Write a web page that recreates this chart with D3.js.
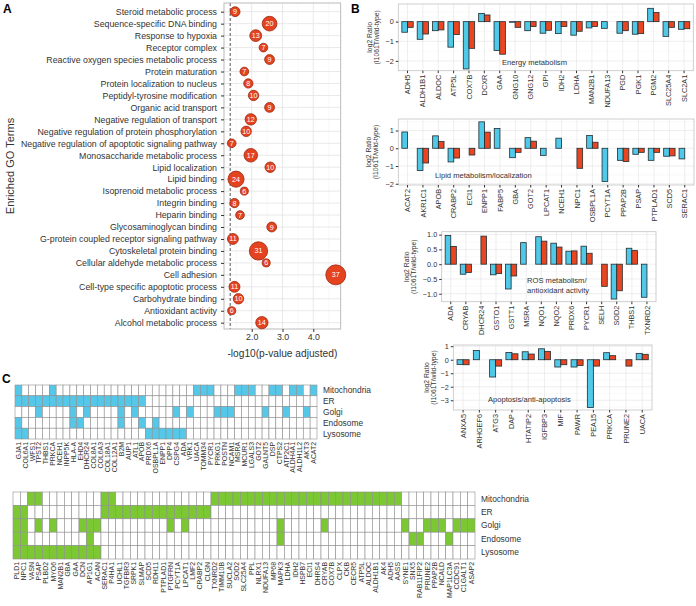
<!DOCTYPE html>
<html>
<head>
<meta charset="utf-8">
<script src="https://cdn.jsdelivr.net/npm/d3@7"></script>
<style>
body { margin: 0; background: #fff; }
svg { font-family: "Liberation Sans", Arial, sans-serif; }
</style>
</head>
<body>
<svg id="fig" width="696" height="606"></svg>
<script>
// ---- Panel A: enriched GO terms ----
const goTerms = ["Steroid metabolic process", "Sequence-specific DNA binding", "Response to hypoxia",
  "Receptor complex", "Reactive oxygen species metabolic process", "Protein maturation",
  "Protein localization to nucleus", "Peptidyl-tyrosine modification", "Organic acid transport",
  "Negative regulation of transport", "Negative regulation of protein phosphorylation",
  "Negative regulation of apoptotic signaling pathway", "Monosaccharide metabolic process",
  "Lipid localization", "Lipid binding", "Isoprenoid metabolic process", "Integrin binding",
  "Heparin binding", "Glycosaminoglycan binding", "G-protein coupled receptor signaling pathway",
  "Cytoskeletal protein binding", "Cellular aldehyde metabolic process", "Cell adhesion",
  "Cell-type specific apoptotic process", "Carbohydrate binding", "Antioxidant activity",
  "Alcohol metabolic process"];
const goScore = [1.46, 2.58, 2.13, 2.38, 2.58, 1.76, 1.89, 2.06, 2.58, 1.97, 1.82, 1.35, 1.97,
  2.6, 1.49, 1.76, 1.44, 1.62, 2.65, 1.39, 2.22, 2.47, 4.73, 1.44, 1.57, 1.35, 2.33];
const goCount = [9, 20, 13, 7, 9, 7, 8, 10, 9, 12, 10, 7, 17, 10, 24, 6, 8, 7, 9, 11, 31, 6, 37, 11, 10, 6, 14];
const goTicks = [2, 3, 4];

// ---- Panel B: log2 ratios (blue / red series) ----
const energyGenes = ["ADH5", "ALDH1B1", "ALDOC", "ATP5L", "COX7B", "DCXR", "GAA", "GNG10", "GNG12", "GPI",
  "IDH2", "LDHA", "MAN2B1", "NDUFA13", "PGD", "PGK1", "PGM2", "SLC25A4", "SLC2A1"];
const energyBlue = [-0.54, -0.9, -0.46, -1.3, -2.41, 0.42, -1.47, -0.03, -0.46, -0.59, -0.61, -0.69, -0.32, -0.34, -0.59, -0.64, 0.68, -0.75, -0.39];
const energyRed = [-0.29, -0.63, -0.42, -0.66, -1.36, 0.34, -1.66, -0.29, -0.25, -0.44, -0.25, -0.49, -0.25, null, -0.46, -0.61, 0.47, -0.29, -0.36];

const lipidGenes = ["ACAT2", "AKR1C1", "APOB", "CRABP2", "ECI1", "ENPP1", "FABP5", "GBA", "GOT2", "LPCAT1",
  "NCEH1", "NPC1", "OSBPL1A", "PCYT1A", "PPAP2B", "PSAP", "PTPLAD1", "SCD5", "SERAC1"];
const lipidBlue = [0.92, -1.25, 0.7, -0.77, null, 1.49, 1.11, -0.53, 0.6, -0.4, 0.57, null, 0.72, -1.87, -0.68, -0.34, -0.68, -0.45, -0.6];
const lipidRed = [null, -0.83, 0.38, -0.55, -0.38, 0.91, null, -0.23, 0.4, null, null, -1.13, 0.34, null, -0.75, -0.23, -0.23, -0.43, null];

const rosGenes = ["ADA", "CRYAB", "DHCR24", "GSTO1", "GSTT1", "MSRA", "NQO1", "NQO2", "PRDX6", "PYCR1",
  "SELH", "SOD2", "THBS1", "TXNRD2"];
const rosBlue = [0.97, -0.34, null, -0.36, -0.84, 0.73, 0.93, 0.71, 0.44, 0.61, null, -1.18, 0.54, -1.12];
const rosRed = [0.6, -0.28, 0.95, -0.32, -0.4, null, 0.78, 0.58, 0.45, 0.37, -0.75, -0.9, 0.46, null];

const apopGenes = ["ANXA5", "ARHGEF6", "ATG3", "DAP", "HTATIP2", "IGFBP3", "MIF", "PAWR", "PEA15", "PRKCA", "PRUNE2", "UACA"];
const apopBlue = [-0.35, 0.69, -1.28, 0.54, 0.59, 0.81, -0.54, -0.54, -3.53, 0.52, null, 0.47];
const apopRed = [-0.37, null, -0.47, 0.44, 0.42, 0.62, -0.37, -0.42, -0.47, 0.3, -0.47, 0.4];

// ---- Panel C: subcellular localisation ----
const compartments = ["Mitochondria", "ER", "Golgi", "Endosome", "Lysosome"];

const blueGenes = ["GJA1", "COL6A1", "WFS1", "TPST2", "THBS1", "PRKCA", "NCEH1", "INPP5K", "HLA-A", "EHD4",
  "DHCR24", "COL8A1", "COL6A3", "COL18A1", "COL12A1", "B2M", "AUP1", "ATL1", "APOB", "PRDX6", "OSBPL1A",
  "ENPP1", "DPP4", "CSPG4", "ADA", "VRK1", "UACA", "TOMM34", "PYCR1", "PRKG1", "POSTN", "NCAM1", "MSRA",
  "MCUR1", "LGALS3", "GOT2", "GALNT5", "DSP", "CTPS2", "ATP2C1", "ALDH4A1", "ALDH1L2", "AKT3", "ACAT2"];
const blueMito = ["GJA1", "PRKCA", "UACA", "TOMM34", "PYCR1", "MSRA", "MCUR1", "LGALS3", "DSP", "CTPS2", "ALDH4A1", "ALDH1L2", "ACAT2"];
const blueER = ["GJA1", "COL6A1", "WFS1", "TPST2", "THBS1", "PRKCA", "NCEH1", "INPP5K", "HLA-A", "EHD4",
  "DHCR24", "COL8A1", "COL6A3", "COL18A1", "COL12A1", "B2M", "AUP1", "ATL1", "APOB"];
const blueGolgi = ["TPST2", "HLA-A", "DHCR24", "B2M", "ATL1", "CSPG4", "VRK1", "PRKG1", "POSTN", "NCAM1", "GALNT5", "ATP2C1", "AKT3"];
const blueEndo = ["GJA1", "HLA-A", "EHD4", "B2M", "APOB", "OSBPL1A"];
const blueLyso = ["GJA1", "COL6A1", "PRDX6", "OSBPL1A", "ENPP1", "DPP4", "CSPG4", "ADA"];

const greenGenes = ["PLD1", "NPC1", "VASN", "PSAP", "PLBD2", "MYO6", "MAN2B1", "GBA", "GAA", "DCN", "AP1G1",
  "ACAN", "SERAC1", "P4HA1", "UCHL1", "TGFBR3", "SRPK1", "SLMAP", "SCD5", "RDH11", "PTPLAD1", "PTGFRN",
  "PCYT1A", "LPCAT1", "LMF2", "CRABP2", "CLGN", "TXNRD2", "TIMM10B", "SUCLA2", "SOD2", "SLC25A4", "PPL",
  "NLRX1", "NDUFA13", "MP68", "MAPK3", "LDHA", "IDH2", "HSPB7", "ECI1", "DHRS4", "CRYAB", "COX7B", "CLPX",
  "CKB", "CECR5", "ATP5L", "ALDOC", "ALDH1B1", "AK4", "ADH5", "AASS", "SYNE1", "SNX5", "RAB11FIP2",
  "PRUNE2", "PPAP2B", "NCALD", "MAP1LC3A", "CCDC91", "C1GALT1", "ASAP2"];
const greenMito = ["VASN", "PSAP", "SERAC1", "P4HA1", "TXNRD2", "TIMM10B", "SUCLA2", "SOD2", "SLC25A4", "PPL",
  "NLRX1", "NDUFA13", "MP68", "MAPK3", "LDHA", "IDH2", "HSPB7", "ECI1", "DHRS4", "CRYAB", "COX7B", "CLPX",
  "CKB", "CECR5", "ATP5L", "ALDOC", "ALDH1B1", "AK4", "ADH5", "AASS"];
const greenER = ["PLD1", "NPC1", "SERAC1", "P4HA1", "UCHL1", "TGFBR3", "SRPK1", "SLMAP", "SCD5", "RDH11",
  "PTPLAD1", "PTGFRN", "PCYT1A", "LPCAT1", "LMF2", "CRABP2", "CLGN"];
const greenGolgi = ["PLD1", "NPC1", "PSAP", "MYO6", "DCN", "AP1G1", "ACAN", "PTGFRN", "LPCAT1", "MAPK3",
  "CRYAB", "SYNE1", "PRUNE2", "PPAP2B", "NCALD", "CCDC91", "C1GALT1", "ASAP2"];
const greenEndo = ["PLD1", "NPC1", "AP1G1", "MAPK3", "SNX5", "RAB11FIP2", "MAP1LC3A"];
const greenLyso = ["PLD1", "NPC1", "VASN", "PSAP", "PLBD2", "MYO6", "MAN2B1", "GBA", "GAA", "DCN", "AP1G1", "ACAN"];


const svg = d3.select("#fig");
const textCol = "#333",
      gridCol = "#e6e6e6",
      minorCol = "#f3f3f3";

// panel letters
[["A", 3, 13], ["B", 351, 13], ["C", 2, 383]].forEach(l => {
  svg.append("text").attr("x", l[1]).attr("y", l[2])
    .attr("font-size", 12).attr("font-weight", "bold").text(l[0]);
});


// ================= Panel A =================
const aLeft = 224, aRight = 340.7, aTop = 3, aBottom = 329;

let xA = d3.scaleLinear().domain([1.1, 4.89]).range([aLeft, aRight]);
let yA = d3.scalePoint().domain(goTerms).range([11.7, 322.7]);
let rA = d3.scaleSqrt().domain([0, 37]).range([0, 10]);

const gA = svg.append("g");

// grid
gA.selectAll("line.minor").data([1.5, 2.5, 3.5, 4.5]).join("line")
  .attr("x1", d => xA(d)).attr("x2", d => xA(d))
  .attr("y1", aTop).attr("y2", aBottom)
  .attr("stroke", minorCol).attr("stroke-width", 0.6);
gA.selectAll("line.major").data(goTicks).join("line")
  .attr("x1", d => xA(d)).attr("x2", d => xA(d))
  .attr("y1", aTop).attr("y2", aBottom)
  .attr("stroke", gridCol).attr("stroke-width", 0.9);
gA.selectAll("line.hgrid").data(goTerms).join("line")
  .attr("x1", aLeft).attr("x2", aRight)
  .attr("y1", d => yA(d)).attr("y2", d => yA(d))
  .attr("stroke", gridCol).attr("stroke-width", 0.9);

// significance threshold (p = 0.05)
gA.append("line")
  .attr("x1", xA(-Math.log10(0.05))).attr("x2", xA(-Math.log10(0.05)))
  .attr("y1", aTop).attr("y2", aBottom)
  .attr("stroke", "#444").attr("stroke-width", 0.9)
  .attr("stroke-dasharray", "3,2");

gA.append("rect")
  .attr("x", aLeft).attr("y", aTop)
  .attr("width", aRight - aLeft).attr("height", aBottom - aTop)
  .attr("fill", "none").attr("stroke", "#b3b3b3").attr("stroke-width", 0.9);

// axes
let yAxisA = gA.append("g")
  .attr("transform", "translate(" + aLeft + ",0)")
  .call(d3.axisLeft(yA).tickSize(3).tickPadding(4));
let xAxisA = gA.append("g")
  .attr("transform", "translate(0," + aBottom + ")")
  .call(d3.axisBottom(xA).tickValues(goTicks).tickSize(3).tickPadding(2));
[yAxisA, xAxisA].forEach(ax => {
  ax.select(".domain").remove();
  ax.selectAll("line").attr("stroke", textCol);
  ax.selectAll("text").attr("fill", textCol).attr("font-size", 8.8)
    .attr("font-family", "Liberation Sans, Arial, sans-serif");
});

gA.append("text")
  .attr("x", (aLeft + aRight) / 2).attr("y", 357)
  .attr("text-anchor", "middle").attr("font-size", 10.2).attr("fill", textCol)
  .text("-log10(p-value adjusted)");
gA.append("text")
  .attr("transform", "translate(14," + 166 + ") rotate(-90)")
  .attr("text-anchor", "middle").attr("font-size", 11).attr("fill", textCol)
  .text("Enriched GO Terms");

// bubbles
const goNodes = goTerms.map((t, i) => ({ term: t, score: goScore[i], n: goCount[i] }));
gA.selectAll("circle.go").data(goNodes).join("circle")
  .attr("cx", d => xA(d.score)).attr("cy", d => yA(d.term))
  .attr("r", d => rA(d.n))
  .attr("fill", "#e5431f").attr("stroke", "#9c2810").attr("stroke-width", 0.8);
gA.selectAll("text.go").data(goNodes).join("text")
  .attr("x", d => xA(d.score)).attr("y", d => yA(d.term))
  .attr("dy", "0.35em").attr("text-anchor", "middle")
  .attr("font-size", 7.2).attr("fill", "#fff")
  .text(d => d.n);


// ================= Panel B =================
function barChart(o) {
  const g = svg.append("g");
  const x = d3.scaleBand().domain(o.genes).range([o.left, o.right])
    .paddingInner(0).paddingOuter(0.1);
  const y = d3.scaleLinear().domain(o.domain).range([o.bottom, o.top]);
  const step = x.step(), bw = step * 0.37;
  const d = o.ticks[1] - o.ticks[0];
  const minor = [o.ticks[0] - d / 2].concat(o.ticks.map(t => t + d / 2))
    .filter(v => v > o.domain[0] && v < o.domain[1]);

  g.selectAll("line.minor").data(minor).join("line")
    .attr("x1", o.left).attr("x2", o.right)
    .attr("y1", v => y(v)).attr("y2", v => y(v))
    .attr("stroke", minorCol).attr("stroke-width", 0.5);
  g.selectAll("line.major").data(o.ticks).join("line")
    .attr("x1", o.left).attr("x2", o.right)
    .attr("y1", v => y(v)).attr("y2", v => y(v))
    .attr("stroke", gridCol).attr("stroke-width", 0.7);
  g.selectAll("line.vgrid").data(o.genes).join("line")
    .attr("x1", gn => x(gn) + step / 2).attr("x2", gn => x(gn) + step / 2)
    .attr("y1", o.top).attr("y2", o.bottom)
    .attr("stroke", gridCol).attr("stroke-width", 0.7);

  const rows = o.genes.map((gn, i) => ({ gene: gn, blue: o.blue[i], red: o.red[i] }));
  const bar = (sel, key, dx, fill) => sel.selectAll("rect." + key)
    .data(rows.filter(r => r[key] !== null)).join("rect")
    .attr("x", r => x(r.gene) + step / 2 + dx)
    .attr("width", bw)
    .attr("y", r => Math.min(y(r[key]), y(0)))
    .attr("height", r => Math.abs(y(r[key]) - y(0)))
    .attr("fill", fill).attr("stroke", "#1f2d33").attr("stroke-width", 0.8);
  bar(g, "blue", -bw, "#50c8e8");
  bar(g, "red", 0, "#ea4521");

  g.append("rect")
    .attr("x", o.left).attr("y", o.top)
    .attr("width", o.right - o.left).attr("height", o.bottom - o.top)
    .attr("fill", "none").attr("stroke", "#c4c4c4").attr("stroke-width", 0.8);

  const ya = g.append("g").attr("transform", "translate(" + o.left + ",0)")
    .call(d3.axisLeft(y).tickValues(o.ticks).tickFormat(o.fmt).tickSize(2.5).tickPadding(2));
  const xa = g.append("g").attr("transform", "translate(0," + o.bottom + ")")
    .call(d3.axisBottom(x).tickSize(2.5));
  [ya, xa].forEach(ax => {
    ax.select(".domain").remove();
    ax.selectAll("line").attr("stroke", textCol);
    ax.selectAll("text").attr("fill", textCol).attr("font-size", 7.3)
      .attr("font-family", "Liberation Sans, Arial, sans-serif");
  });
  xa.selectAll("text")
    .attr("transform", "rotate(-90)")
    .attr("text-anchor", "end")
    .attr("x", -4).attr("y", 0).attr("dy", "0.35em");

  // axis title
  const cy = (o.top + o.bottom) / 2;
  ["log2 Ratio", "(I1061T/wild-type)"].forEach((t, i) => {
    g.append("text")
      .attr("transform", "translate(" + (o.titleX + i * 7) + "," + cy + ") rotate(-90)")
      .attr("text-anchor", "middle").attr("dy", "0.35em")
      .attr("font-size", 6.8).attr("fill", textCol).text(t);
  });

  // category label inside the panel
  o.label.forEach((t, i) => {
    g.append("text")
      .attr("x", o.labelX).attr("y", o.labelY + i * 10.4)
      .attr("dy", "0.35em").attr("font-size", 7.6).attr("fill", textCol).text(t);
  });
}

barChart({ genes: energyGenes, blue: energyBlue, red: energyRed,
  left: 398.3, right: 693.3, top: 4, bottom: 70.7, domain: [-2.5, 0.9],
  ticks: [-2, -1, 0], fmt: d3.format("d"), titleX: 370,
  label: ["Energy metabolism"], labelX: 502, labelY: 62.7 });

barChart({ genes: lipidGenes, blue: lipidBlue, red: lipidRed,
  left: 398.3, right: 694, top: 119, bottom: 185, domain: [-2.07, 1.65],
  ticks: [-2, -1, 0, 1], fmt: d3.format("d"), titleX: 368.5,
  label: ["Lipid metabolism/localization"], labelX: 435, labelY: 175.3 });

barChart({ genes: rosGenes, blue: rosBlue, red: rosRed,
  left: 441.7, right: 656, top: 231.7, bottom: 301.7, domain: [-1.27, 1.1],
  ticks: [-1, -0.5, 0, 0.5, 1], fmt: d3.format(".1f"), titleX: 407,
  label: ["ROS metabolism/", "antioxidant activity"], labelX: 527, labelY: 280.3 });

barChart({ genes: apopGenes, blue: apopBlue, red: apopRed,
  left: 453.3, right: 652, top: 345, bottom: 410, domain: [-3.72, 1.09],
  ticks: [-3, -2, -1, 0, 1], fmt: d3.format("d"), titleX: 427,
  label: ["Apoptosis/anti-apoptosis"], labelX: 488, labelY: 399.3 });


// ================= Panel C =================
function heatmap(o) {
  const g = svg.append("g");
  const x = d3.scaleBand().domain(o.genes).range([o.left, o.right]);
  const y = d3.scaleBand().domain(compartments).range([o.top, o.bottom]);
  const cells = [];
  compartments.forEach((c, ci) => {
    o.genes.forEach(gn => cells.push({ comp: c, gene: gn, on: o.sets[ci].includes(gn) }));
  });
  g.selectAll("rect").data(cells).join("rect")
    .attr("x", d => x(d.gene)).attr("y", d => y(d.comp))
    .attr("width", x.bandwidth()).attr("height", y.bandwidth())
    .attr("fill", d => d.on ? o.color : "#fff")
    .attr("stroke", "#8f8f8f").attr("stroke-width", 0.6);

  g.selectAll("text.comp").data(compartments).join("text")
    .attr("x", o.right + 6).attr("y", c => y(c) + y.bandwidth() / 2)
    .attr("dy", "0.35em").attr("font-size", 8.4).attr("fill", textCol)
    .text(c => c);

  g.selectAll("text.gene").data(o.genes).join("text")
    .attr("transform", gn => "translate(" + (x(gn) + x.bandwidth() / 2) + "," + (o.bottom + 3) + ") rotate(-90)")
    .attr("text-anchor", "end").attr("dy", "0.35em")
    .attr("font-size", 6.9).attr("fill", textCol)
    .text(gn => gn);
}

heatmap({ genes: blueGenes, sets: [blueMito, blueER, blueGolgi, blueEndo, blueLyso],
  left: 15, right: 317, top: 385, bottom: 439, color: "#55c8ea" });

heatmap({ genes: greenGenes, sets: [greenMito, greenER, greenGolgi, greenEndo, greenLyso],
  left: 13, right: 475, top: 492, bottom: 559, color: "#7cc832" });
</script>
</body>
</html>
